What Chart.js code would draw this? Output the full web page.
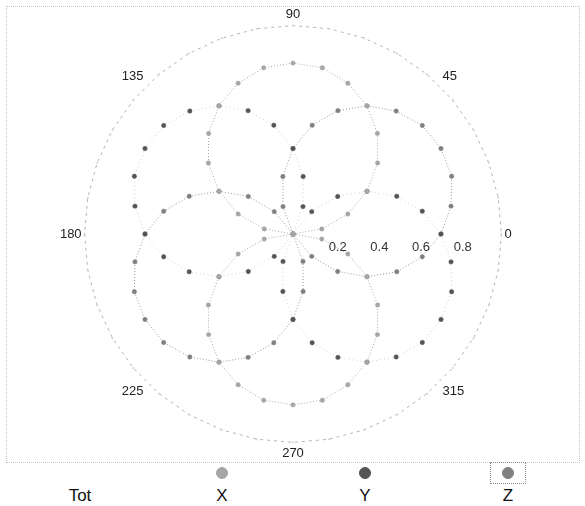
<!DOCTYPE html>
<html>
<head>
<meta charset="utf-8">
<script src="https://cdn.jsdelivr.net/npm/chart.js@4.4.1/dist/chart.umd.min.js"></script>
<style>
  body { margin: 0; background: #fff; font-family: "Liberation Sans", Arial, sans-serif; }
  #plot { position: absolute; left: 6px; top: 6px; width: 572px; height: 455px; border: 1px dotted #c4c4c4; }
  #legend { position: absolute; left: 0; top: 462px; width: 585px; height: 44px; }
  .mark { position: absolute; top: 5px; width: 12px; height: 12px; border-radius: 50%; box-sizing: border-box; }
  .name { position: absolute; top: 25px; width: 60px; text-align: center; font-size: 17px; line-height: 18px; color: #111; }
  .frame { position: absolute; top: 0; height: 20px; border: 1px dotted #888; }
</style>
</head>
<body>
<div id="plot"><canvas id="chart"></canvas></div>
<div id="legend"></div>

<script>
// ------------------- DATA -------------------
const angles = [0, 10, 20, 30, 40, 50, 60, 70, 80, 90, 100, 110, 120, 130, 140, 150, 160, 170,
                180, 190, 200, 210, 220, 230, 240, 250, 260, 270, 280, 290, 300, 310, 320, 330, 340, 350];

const totVals = [1.00, 1.00, 1.00, 1.00, 1.00, 1.00, 1.00, 1.00, 1.00, 1.00, 1.00, 1.00,
                 1.00, 1.00, 1.00, 1.00, 1.00, 1.00, 1.00, 1.00, 1.00, 1.00, 1.00, 1.00,
                 1.00, 1.00, 1.00, 1.00, 1.00, 1.00, 1.00, 1.00, 1.00, 1.00, 1.00, 1.00];
const xVals = [0.00, 0.14, 0.28, 0.41, 0.53, 0.63, 0.71, 0.77, 0.81, 0.82, 0.81, 0.77,
               0.71, 0.63, 0.53, 0.41, 0.28, 0.14, 0.00, 0.14, 0.28, 0.41, 0.53, 0.63,
               0.71, 0.77, 0.81, 0.82, 0.81, 0.77, 0.71, 0.63, 0.53, 0.41, 0.28, 0.14];
const yVals = [0.71, 0.63, 0.53, 0.41, 0.28, 0.14, 0.00, 0.14, 0.28, 0.41, 0.53, 0.63,
               0.71, 0.77, 0.81, 0.82, 0.81, 0.77, 0.71, 0.63, 0.53, 0.41, 0.28, 0.14,
               0.00, 0.14, 0.28, 0.41, 0.53, 0.63, 0.71, 0.77, 0.81, 0.82, 0.81, 0.77];
const zVals = [0.71, 0.77, 0.81, 0.82, 0.81, 0.77, 0.71, 0.63, 0.53, 0.41, 0.28, 0.14,
               0.00, 0.14, 0.28, 0.41, 0.53, 0.63, 0.71, 0.77, 0.81, 0.82, 0.81, 0.77,
               0.71, 0.63, 0.53, 0.41, 0.28, 0.14, 0.00, 0.14, 0.28, 0.41, 0.53, 0.63];

const seriesNames = ["Tot", "X", "Y", "Z"];
const angleTicks = [0, 45, 90, 135, 180, 225, 270, 315];
const radialTicks = [0.2, 0.4, 0.6, 0.8];

// ------------------- RADAR SLOTS -------------------
// radar goes clockwise from startAngle, so walk the 5 degree slots backwards (counter-clockwise)
const slots = [];
for (let i = 0; i < 72; i++) slots.push((360 - i * 5) % 360);

function toSlots(vals) {
  return slots.map(a => {
    const k = angles.indexOf(a);
    return k >= 0 ? vals[k] : null;
  });
}

const styles = [
  { line: "#b4b4b4", dash: [3, 4], point: "#d0d0d0", radius: 0.8 },
  { line: "#a8a8a8", dash: [1, 2], point: "#a6a6a6", radius: 2.2 },
  { line: "#cfcfcf", dash: [1, 3], point: "#555555", radius: 2.2 },
  { line: "#999999", dash: [1, 2], point: "#808080", radius: 2.2 }
];
const values = [totVals, xVals, yVals, zVals];

// ------------------- TICK LABELS ON THE 0 AXIS -------------------
const radialTickLabels = {
  id: "radialTickLabels",
  afterDatasetsDraw(chart) {
    const s = chart.scales.r;
    const ctx = chart.ctx;
    ctx.save();
    ctx.font = '13px "Liberation Sans", Arial, sans-serif';
    ctx.fillStyle = "#333";
    ctx.textAlign = "center";
    ctx.textBaseline = "middle";
    radialTicks.forEach(v => {
      ctx.fillText(v.toFixed(1), s.xCenter + s.getDistanceFromCenterForValue(v) + 3, s.yCenter + 13);
    });
    ctx.restore();
  }
};

const chart = new Chart(document.getElementById("chart"), {
  type: "radar",
  data: {
    labels: slots.map(String),
    datasets: seriesNames.map((name, i) => ({
      label: name,
      data: toSlots(values[i]),
      spanGaps: true,
      borderColor: styles[i].line,
      borderWidth: 1,
      borderDash: styles[i].dash,
      backgroundColor: "transparent",
      fill: false,
      tension: 0,
      pointRadius: styles[i].radius,
      pointBackgroundColor: styles[i].point,
      pointBorderColor: styles[i].point,
      pointBorderWidth: 0.5
    }))
  },
  options: {
    responsive: true,
    maintainAspectRatio: false,
    animation: false,
    events: [],
    layout: { padding: 0 },
    plugins: { legend: { display: false }, tooltip: { enabled: false } },
    scales: {
      r: {
        min: 0,
        max: 1,
        startAngle: 90,
        grid: { display: false },
        angleLines: { display: false },
        ticks: { display: false },
        pointLabels: {
          padding: 3,
          color: "#222",
          font: { family: '"Liberation Sans", Arial, sans-serif', size: 13 },
          callback: label => angleTicks.includes(Number(label)) ? label : ""
        }
      }
    }
  },
  plugins: [radialTickLabels]
});

// ------------------- LEGEND -------------------
const legendX = [80, 222, 365, 508];
const legend = document.getElementById("legend");
seriesNames.forEach((name, i) => {
  if (i > 0) {
    const m = document.createElement("div");
    m.className = "mark";
    m.style.left = (legendX[i] - 6) + "px";
    m.style.background = styles[i].point;
    m.style.border = "1px solid " + styles[i].point;
    legend.appendChild(m);
  }
  const t = document.createElement("div");
  t.className = "name";
  t.style.left = (legendX[i] - 30) + "px";
  t.textContent = name;
  legend.appendChild(t);
});
// focus frame round the last legend entry
const f = document.createElement("div");
f.className = "frame";
f.style.left = (legendX[3] - 18) + "px";
f.style.width = "34px";
legend.appendChild(f);
</script>
</body>
</html>
